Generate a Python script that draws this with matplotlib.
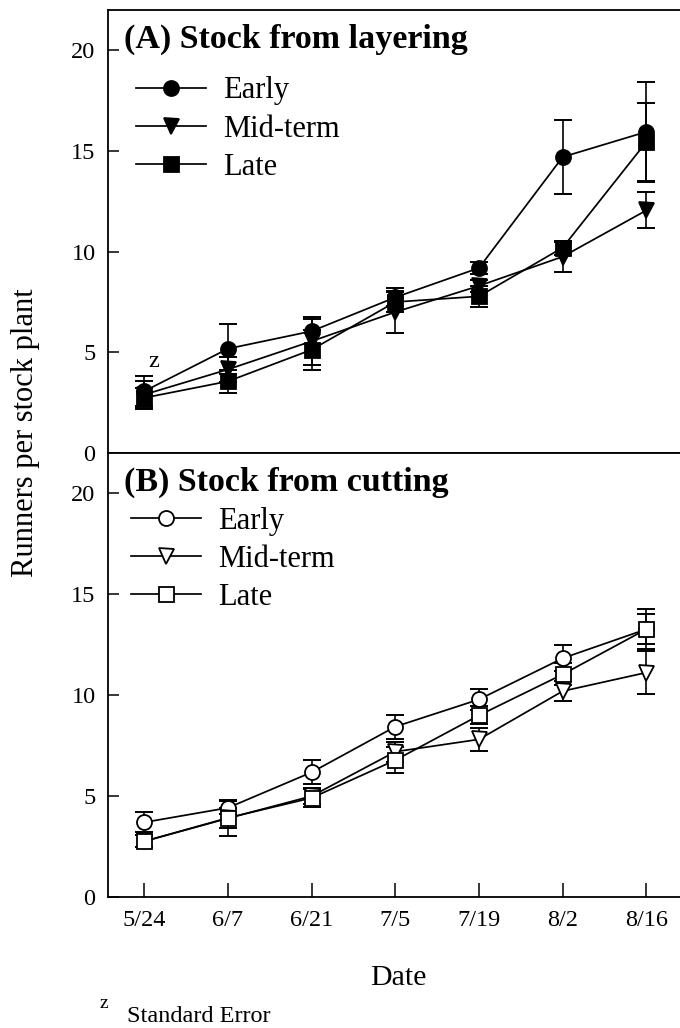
import matplotlib
matplotlib.use("Agg")
import matplotlib.pyplot as plt

plt.rcParams['font.family'] = ['Liberation Serif', 'DejaVu Serif']

# Sampling dates
dates = ['5/24', '6/7', '6/21', '7/5', '7/19', '8/2', '8/16']
series_names = ['Early', 'Mid-term', 'Late']

# (A) Stock from layering: runners per stock plant and standard errors
early_A = [3.07, 5.18, 6.05, 7.73, 9.19, 14.70, 15.95]
early_A_se = [0.74, 1.24, 0.62, 0.45, 0.30, 1.85, 2.47]
mid_A = [2.90, 4.15, 5.55, 7.00, 8.30, 9.75, 12.05]
mid_A_se = [0.70, 0.60, 1.20, 1.05, 0.30, 0.75, 0.90]
late_A = [2.74, 3.56, 5.13, 7.50, 7.78, 10.20, 15.45]
late_A_se = [0.50, 0.57, 1.00, 0.50, 0.52, 0.35, 1.94]

# (B) Stock from cutting
early_B = [3.70, 4.42, 6.18, 8.44, 9.79, 11.83, 13.27]
early_B_se = [0.50, 0.32, 0.60, 0.60, 0.53, 0.64, 1.00]
mid_B = [2.76, 3.90, 5.00, 7.20, 7.81, 10.20, 11.12]
mid_B_se = [0.30, 0.90, 0.37, 0.50, 0.58, 0.50, 1.05]
late_B = [2.76, 3.92, 4.91, 6.78, 9.00, 11.03, 13.27]
late_B_se = [0.30, 0.50, 0.47, 0.63, 0.45, 0.55, 0.75]

x = list(range(len(dates)))

W, H = 680, 1028
fig = plt.figure(figsize=(W / 100, H / 100), dpi=100)
left = 107.5 / W
width = (684.0 - 107.5) / W
axA = fig.add_axes([left, 1 - 453 / H, width, 443 / H])
axB = fig.add_axes([left, 1 - 897 / H, width, 444 / H])

markers = ['o', 'v', 's']
ms = 10.8


def draw_panel(ax, ys, ses, filled, title, leg_anchor):
    handles = []
    for y, se in zip(ys, ses):
        ax.errorbar(x, y, yerr=se, fmt='none', ecolor='black',
                    elinewidth=1.2, capsize=6.5, capthick=1.4, zorder=2)
    for y, mk, name in zip(ys, markers, series_names):
        ln, = ax.plot(x, y, color='black', lw=1.25, marker=mk, ms=ms,
                      mfc='black' if filled else 'white', mec='black',
                      mew=1.3, label=name, zorder=3)
        handles.append(ln)
    ax.set_xlim(-0.44, 6.45)
    ax.set_ylim(0, 22)
    ax.set_yticks([0, 5, 10, 15, 20])
    ax.tick_params(axis='y', direction='in', length=8, width=1.1,
                   labelsize=17.5, pad=8.6)
    for sp in ax.spines.values():
        sp.set_linewidth(1.3)
    ax.text(0.0286, 0.915, title, transform=ax.transAxes, fontsize=24.5,
            fontweight='bold', ha='left', va='baseline')
    ax.legend(handles=handles, loc='upper left', bbox_to_anchor=leg_anchor,
              frameon=False, fontsize=22, handlelength=2.29,
              handletextpad=0.56, labelspacing=0.30, borderpad=0,
              borderaxespad=0)


draw_panel(axA, [early_A, mid_A, late_A], [early_A_se, mid_A_se, late_A_se],
           True, '(A) Stock from layering', (0.05, 0.850))
draw_panel(axB, [early_B, mid_B, late_B], [early_B_se, mid_B_se, late_B_se],
           False, '(B) Stock from cutting', (0.041, 0.879))

axA.tick_params(axis='x', bottom=False, labelbottom=False)
axB.set_xticks(x)
axB.set_xticklabels(dates)
axB.tick_params(axis='x', direction='in', length=10, width=1.1,
                labelsize=17.5, pad=9.5)

# Standard error marker for the first point
axA.text(0.11, 4.25, 'z', fontsize=17.5, ha='center', va='baseline')

fig.text(26 / W, 1 - 433 / H, 'Runners per stock plant', rotation=90,
         fontsize=22, ha='center', va='center')
fig.text(398 / W, 1 - 978 / H, 'Date', fontsize=21.5, ha='center', va='center')
fig.text(104 / W, 1 - 1004 / H, 'z', fontsize=14, ha='center', va='center')
fig.text(127 / W, 1 - 1016 / H, 'Standard Error', fontsize=17.5,
         ha='left', va='center')

fig.savefig('out.png', dpi=100)
